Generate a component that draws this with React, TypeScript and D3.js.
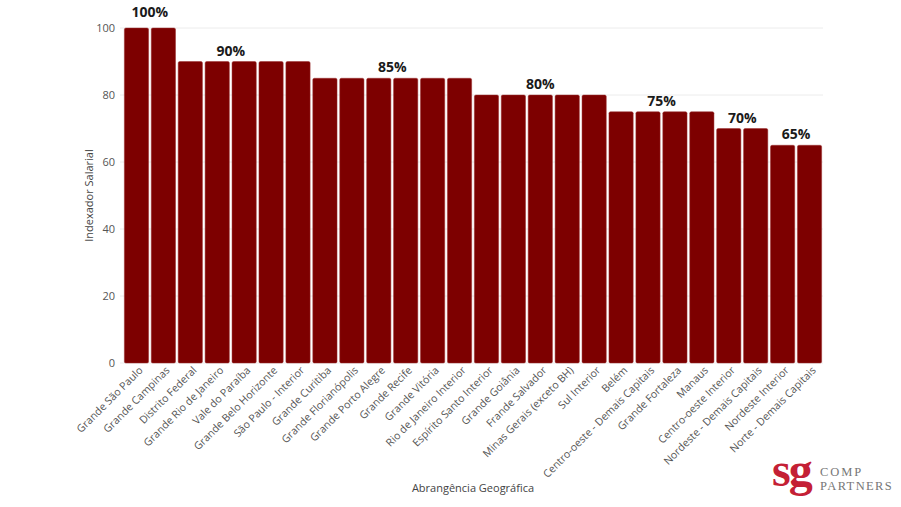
import * as d3 from "d3";
import React from "react";

const regions = [
  "Grande São Paulo",
  "Grande Campinas",
  "Distrito Federal",
  "Grande Rio de Janeiro",
  "Vale do Paraíba",
  "Grande Belo Horizonte",
  "São Paulo - Interior",
  "Grande Curitiba",
  "Grande Florianópolis",
  "Grande Porto Alegre",
  "Grande Recife",
  "Grande Vitória",
  "Rio de Janeiro Interior",
  "Espírito Santo Interior",
  "Grande Goiânia",
  "Frande Salvador",
  "Minas Gerais (exceto BH)",
  "Sul Interior",
  "Belém",
  "Centro-oeste - Demais Capitais",
  "Grande Fortaleza",
  "Manaus",
  "Centro-oeste Interior",
  "Nordeste - Demais Capitais",
  "Nordeste Interior",
  "Norte - Demais Capitais",
];

const indexValues = [
  100, 100, 90, 90, 90, 90, 90, 85, 85, 85, 85, 85, 85, 80, 80, 80, 80, 80, 75, 75, 75, 75, 70, 70, 65, 65,
];

// tier labels, each centred between two categories
const tierLabels = [
  { value: 100, from: "Grande São Paulo", to: "Grande Campinas" },
  { value: 90, from: "Grande Rio de Janeiro", to: "Vale do Paraíba" },
  { value: 85, from: "Grande Porto Alegre", to: "Grande Recife" },
  { value: 80, from: "Frande Salvador", to: "Frande Salvador" },
  { value: 75, from: "Centro-oeste - Demais Capitais", to: "Grande Fortaleza" },
  { value: 70, from: "Centro-oeste Interior", to: "Nordeste - Demais Capitais" },
  { value: 65, from: "Nordeste Interior", to: "Norte - Demais Capitais" },
];

const yTicks = [0, 20, 40, 60, 80, 100];

const W = 901;
const H = 507;
const margin = { top: 28, right: 78, bottom: 144, left: 123 };
const FONT = "'Open Sans', 'Noto Sans', sans-serif";
const SERIF = "'Liberation Serif', 'DejaVu Serif', serif";

export default function App() {
  const svgRef = React.useRef<SVGSVGElement | null>(null);

  React.useEffect(() => {
    const x = d3
      .scaleBand<string>()
      .domain(regions)
      .range([margin.left, W - margin.right])
      .paddingInner(0.1)
      .paddingOuter(0.05);
    const y = d3
      .scaleLinear()
      .domain([0, 100])
      .range([H - margin.bottom, margin.top]);

    const svg = d3.select(svgRef.current);
    svg.selectAll("*").remove();

    svg.append("rect").attr("width", W).attr("height", H).attr("fill", "#fff");

    // gridlines
    svg
      .append("g")
      .selectAll("line")
      .data(yTicks)
      .join("line")
      .attr("x1", margin.left - 3)
      .attr("x2", W - margin.right)
      .attr("y1", (d) => y(d))
      .attr("y2", (d) => y(d))
      .attr("stroke", "#ececec")
      .attr("stroke-width", 1);

    // y axis labels
    const yAxis = d3.axisLeft(y).tickValues(yTicks).tickSize(0).tickPadding(8);
    const yg = svg.append("g").attr("transform", `translate(${margin.left},0)`).call(yAxis);
    yg.select(".domain").remove();
    yg.selectAll("text")
      .attr("fill", "#555")
      .attr("font-size", 11)
      .attr("font-family", FONT);

    // bars
    svg
      .append("g")
      .selectAll("rect")
      .data(regions.map((r, i) => ({ r, v: indexValues[i] })))
      .join("rect")
      .attr("x", (d) => x(d.r)!)
      .attr("y", (d) => y(d.v))
      .attr("width", x.bandwidth())
      .attr("height", (d) => y(0) - y(d.v))
      .attr("rx", 1.5)
      .attr("fill", "#7d0000")
      .attr("stroke", "#9a3030")
      .attr("stroke-width", 0.5);

    // x axis labels
    const xAxis = d3.axisBottom(x).tickSize(0).tickPadding(0);
    const xg = svg.append("g").attr("transform", `translate(0,${y(0)})`).call(xAxis);
    xg.select(".domain").remove();
    xg.selectAll("text")
      .attr("fill", "#555")
      .attr("font-size", 10.6)
      .attr("font-family", FONT)
      .attr("text-anchor", "end")
      .attr("dy", null)
      .attr("y", 0)
      .attr("transform", "translate(7,8) rotate(-45)");

    // tier labels
    svg
      .append("g")
      .selectAll("text")
      .data(tierLabels)
      .join("text")
      .attr("x", (d) => (x(d.from)! + x(d.to)!) / 2 + x.bandwidth() / 2)
      .attr("y", (d) => y(d.value) - (d.value === 100 ? 11 : 6))
      .attr("text-anchor", "middle")
      .attr("font-family", FONT)
      .attr("font-weight", 700)
      .attr("font-size", 14)
      .attr("fill", "#1a1a1a")
      .text((d) => `${d.value}%`);

    // axis titles
    svg
      .append("text")
      .attr("transform", `translate(93,${(y(0) + y(100)) / 2}) rotate(-90)`)
      .attr("text-anchor", "middle")
      .attr("font-family", FONT)
      .attr("font-size", 11)
      .attr("fill", "#444")
      .text("Indexador Salarial");

    svg
      .append("text")
      .attr("x", (margin.left + W - margin.right) / 2)
      .attr("y", 492)
      .attr("text-anchor", "middle")
      .attr("font-family", FONT)
      .attr("font-size", 11)
      .attr("fill", "#444")
      .text("Abrangência Geográfica");

    // logo
    const logo = svg.append("g").attr("transform", "translate(772,486)");
    logo
      .append("text")
      .attr("x", 0)
      .attr("y", 0)
      .attr("font-family", SERIF)
      .attr("font-weight", 700)
      .attr("font-size", 48)
      .attr("letter-spacing", -2)
      .attr("fill", "#c42035")
      .text("sg");
    logo
      .append("text")
      .attr("x", 48)
      .attr("y", -10)
      .attr("font-family", SERIF)
      .attr("font-size", 12.5)
      .attr("letter-spacing", 1.9)
      .attr("fill", "#777")
      .text("COMP");
    logo
      .append("text")
      .attr("x", 48)
      .attr("y", 4)
      .attr("font-family", SERIF)
      .attr("font-size", 12.5)
      .attr("letter-spacing", 1.4)
      .attr("fill", "#777")
      .text("PARTNERS");
  }, []);

  return <svg ref={svgRef} width={W} height={H} style={{ display: "block", position: "absolute", left: 0, top: 0 }} />;
}
